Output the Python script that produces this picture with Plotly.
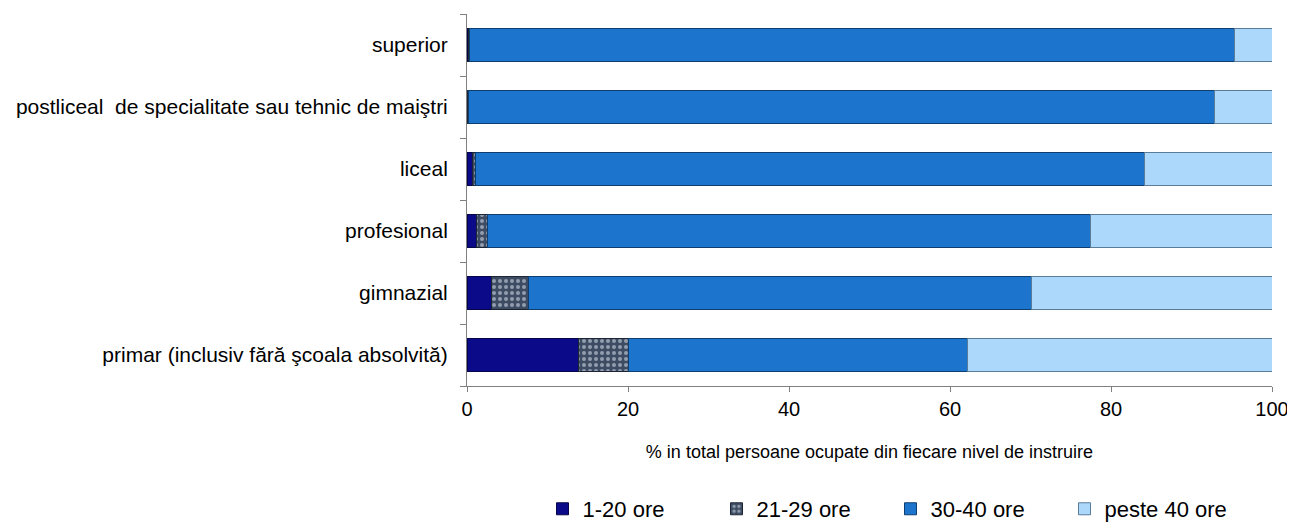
import plotly.graph_objects as go

categories = [
    "primar (inclusiv fără şcoala absolvită)",
    "gimnazial",
    "profesional",
    "liceal",
    "postliceal  de specialitate sau tehnic de maiştri",
    "superior",
]
series_names = ["1-20 ore", "21-29 ore", "30-40 ore", "peste 40 ore"]
v_1_20 = [13.8, 3.0, 1.2, 0.7, 0.1, 0.2]
v_21_29 = [6.2, 4.7, 1.3, 0.3, 0.1, 0.1]
v_30_40 = [42.2, 62.4, 74.9, 83.2, 92.6, 95.0]
v_peste40 = [37.8, 29.9, 22.6, 15.8, 7.2, 4.7]
x_ticks = [0, 20, 40, 60, 80, 100]

fig = go.Figure()
styles = [
    dict(color="#0b0b8a", line=dict(color="#05054a", width=1)),
    dict(color="#3d4c63", line=dict(color="#1c2535", width=1),
         pattern=dict(shape=".", fgcolor="#e8eef8", bgcolor="#3d4c63", size=6, solidity=0.35)),
    dict(color="#1d74cc", line=dict(color="#0d3e70", width=1)),
    dict(color="#acd8fb", line=dict(color="#5b7c99", width=1)),
]
for name, vals, st in zip(series_names, [v_1_20, v_21_29, v_30_40, v_peste40], styles):
    fig.add_trace(go.Bar(y=categories, x=vals, name=name, orientation="h", marker=st, width=0.52))

fig.update_layout(
    barmode="stack",
    width=1287, height=517,
    margin=dict(l=459, r=23, t=6, b=139, autoexpand=False),
    paper_bgcolor="white", plot_bgcolor="white",
    font=dict(family="Liberation Sans, Arial, sans-serif", size=18, color="black"),
    showlegend=True,
    legend=dict(orientation="h", x=0.0938, xanchor="left", xref="paper",
                y=0.031, yanchor="middle", yref="container",
                font=dict(size=22), entrywidth=129, traceorder="normal",
                itemwidth=30),
    xaxis=dict(range=[0, 100], tickvals=x_ticks, showgrid=False, zeroline=False,
               showline=True, linecolor="#808080", linewidth=1, ticks="outside",
               ticklen=5, tickcolor="#808080", tickfont=dict(size=20),
               ticklabelstandoff=0, ticklabeloverflow="allow", automargin=False,
               title=dict(text="% in total persoane ocupate din fiecare nivel de instruire",
                          standoff=26, font=dict(size=18))),
    yaxis=dict(categoryorder="array", categoryarray=categories, showgrid=False,
               showline=True, linecolor="#808080", linewidth=1, ticks="outside",
               tickson="boundaries", ticklen=6, tickcolor="#808080", automargin=False,
               tickfont=dict(size=21), ticklabelstandoff=14),
)
fig.write_html("out.html")
